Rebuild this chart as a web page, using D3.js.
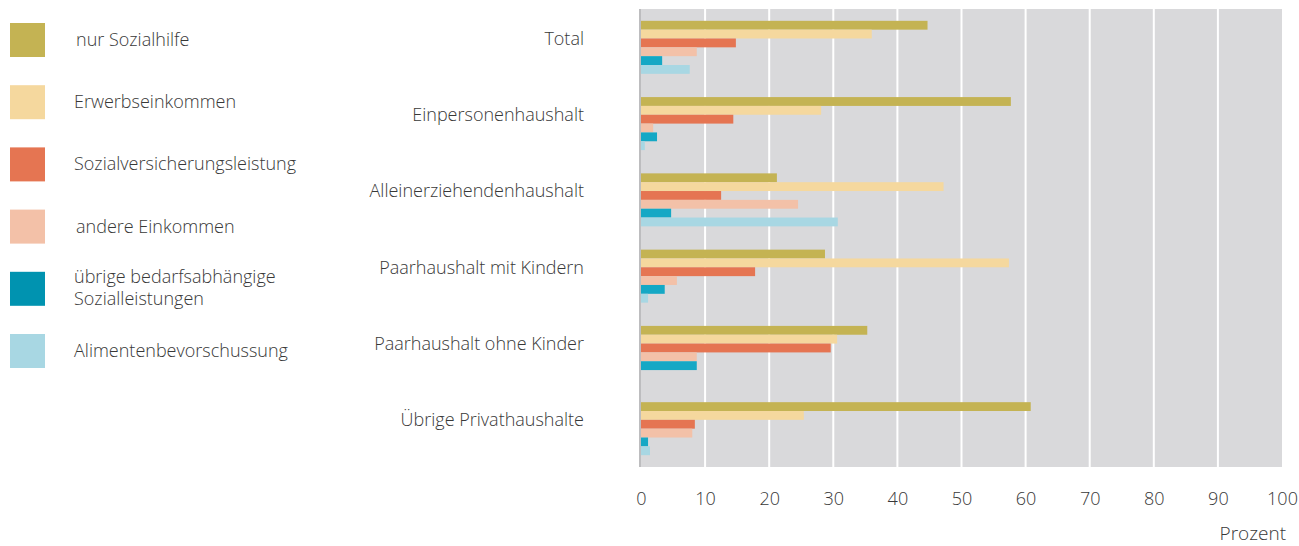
<!DOCTYPE html>
<html>
<head>
<meta charset="utf-8">
<script src="https://cdn.jsdelivr.net/npm/d3@7"></script>
<style>
  html, body { margin: 0; padding: 0; background: #ffffff; }
  svg { display: block; }
  text { font-family: "Open Sans", "Noto Sans", sans-serif; font-weight: 300; fill: #383838; }
</style>
</head>
<body>
<svg id="chart" width="1299" height="546"></svg>
<script>
// ---- Data ----
const categories = ["Total", "Einpersonenhaushalt", "Alleinerziehendenhaushalt", "Paarhaushalt mit Kindern", "Paarhaushalt ohne Kinder", "Übrige Privathaushalte"];
const seriesNames = ["nur Sozialhilfe", "Erwerbseinkommen", "Sozialversicherungsleistung", "andere Einkommen", "übrige bedarfsabhängige Sozialleistungen", "Alimentenbevorschussung"];
const legendLines = [["nur Sozialhilfe"], ["Erwerbseinkommen"], ["Sozialversicherungsleistung"], ["andere Einkommen"], ["übrige bedarfsabhängige", "Sozialleistungen"], ["Alimentenbevorschussung"]];
const nurSozialhilfe      = [44.7, 57.7, 21.2, 28.7, 35.3, 60.8];
const erwerbseinkommen    = [36.0, 28.1, 47.2, 57.4, 30.6, 25.4];
const sozialversicherung  = [14.8, 14.4, 12.5, 17.8, 29.6, 8.4];
const andereEinkommen     = [8.7, 1.9, 24.5, 5.6, 8.7, 8.0];
const uebrigeBedarf       = [3.3, 2.5, 4.7, 3.7, 8.7, 1.1];
const alimente            = [7.6, 0.6, 30.7, 1.1, 0.0, 1.4];
const seriesValues = [nurSozialhilfe, erwerbseinkommen, sozialversicherung, andereEinkommen, uebrigeBedarf, alimente];
const xTicks = [0, 10, 20, 30, 40, 50, 60, 70, 80, 90, 100];
const axisTitle = "Prozent";

// ---- Styles ----
const barColors    = ["#c4b353", "#f5d89e", "#e57552", "#f3c1a8", "#15a8c5", "#a8d7e3"];
const legendColors = ["#c4b353", "#f5d89e", "#e57552", "#f3c1a8", "#0093b0", "#a8d7e3"];

const svg = d3.select("#chart");
const plot = { left: 641, right: 1282, top: 9, bottom: 467 };

const x = d3.scaleLinear().domain([0, 100]).range([plot.left, plot.right]);
const y0 = d3.scaleBand().domain(categories).range([plot.top, plot.bottom]).paddingInner(0.305).paddingOuter(0.155);
const y1 = d3.scaleBand().domain(seriesNames).range([0, y0.bandwidth()]);

// background
svg.append("rect")
  .attr("x", plot.left - 2).attr("y", plot.top)
  .attr("width", plot.right - plot.left + 2).attr("height", plot.bottom - plot.top)
  .attr("fill", "#d9d9db");

// grid lines
svg.append("g").selectAll("line")
  .data(xTicks.filter(d => d > 0 && d < 100))
  .join("line")
  .attr("x1", d => x(d)).attr("x2", d => x(d))
  .attr("y1", plot.top).attr("y2", plot.bottom)
  .attr("stroke", "#ffffff").attr("stroke-width", 2);

// left axis line
svg.append("line")
  .attr("x1", plot.left - 1).attr("x2", plot.left - 1)
  .attr("y1", plot.top).attr("y2", plot.bottom)
  .attr("stroke", "#bdbdbf").attr("stroke-width", 2);

// bars
const rows = [];
categories.forEach((c, ci) => {
  seriesNames.forEach((s, si) => {
    rows.push({ cat: c, ser: s, si: si, value: seriesValues[si][ci] });
  });
});
svg.append("g").selectAll("rect")
  .data(rows.filter(d => d.value > 0))
  .join("rect")
  .attr("x", x(0))
  .attr("y", d => y0(d.cat) + y1(d.ser))
  .attr("width", d => x(d.value) - x(0))
  .attr("height", y1.bandwidth())
  .attr("fill", d => barColors[d.si]);

// category labels
svg.append("g").selectAll("text")
  .data(categories)
  .join("text")
  .attr("x", 584)
  .attr("y", d => y0(d) + 24)
  .attr("text-anchor", "end")
  .attr("font-size", 18)
  .text(d => d);

// x axis tick labels
const xAxis = d3.axisBottom(x).tickValues(xTicks).tickSize(0).tickPadding(0).tickFormat(d3.format("d"));
const gx = svg.append("g").attr("transform", `translate(0, ${plot.bottom})`).call(xAxis);
gx.select(".domain").remove();
gx.selectAll("text")
  .attr("y", 38)
  .attr("dy", 0)
  .attr("font-size", 18)
  .style("font-family", "'Open Sans', 'Noto Sans', sans-serif")
  .style("font-weight", 300)
  .attr("fill", "#383838");

// axis title
svg.append("text")
  .attr("x", 1286).attr("y", 540)
  .attr("text-anchor", "end")
  .attr("font-size", 19)
  .text(axisTitle);

// legend
const legendStep = 62.2;
const lg = svg.append("g").selectAll("g")
  .data(seriesNames)
  .join("g")
  .attr("transform", (d, i) => `translate(10, ${23 + i * legendStep})`);
lg.append("rect")
  .attr("width", 35).attr("height", 34)
  .attr("fill", (d, i) => legendColors[i]);
lg.each(function(d, i) {
  const lines = legendLines[i];
  const g = d3.select(this);
  const startY = lines.length === 1 ? 23 : 11;
  const tx = (i === 0 || i === 3) ? 66 : 64;
  lines.forEach((ln, k) => {
    g.append("text")
      .attr("x", tx)
      .attr("y", startY + k * 22)
      .attr("font-size", 18)
      .text(ln);
  });
});
</script>
</body>
</html>
